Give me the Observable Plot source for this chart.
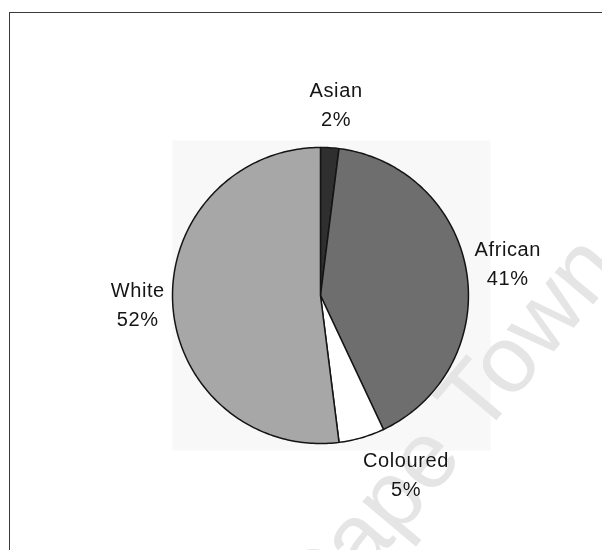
<!DOCTYPE html>
<html>
<head>
<meta charset="utf-8">
<script src="https://cdn.jsdelivr.net/npm/d3@7"></script>
<script src="https://cdn.jsdelivr.net/npm/@observablehq/plot@0.6"></script>
<style>
  html, body { margin: 0; padding: 0; background: #fff; overflow: hidden; }
  #page { position: relative; width: 602px; height: 550px; overflow: hidden; }
  #border { position: absolute; left: 9px; top: 12px; width: 640px; height: 600px;
            border-top: 1.5px solid #3a3a3a; border-left: 1.5px solid #3a3a3a; }
  #chart { position: absolute; left: 0; top: 0; }
  #mark { position: absolute; left: 0; top: 0; mix-blend-mode: darken; pointer-events: none; }
</style>
</head>
<body>
<div id="page">
  <div id="border"></div>
  <div id="chart"></div>
  <svg id="mark" width="602" height="550">
    <text x="623" y="269" transform="rotate(-50 623 269)" text-anchor="end"
          font-family="Arial, 'Liberation Sans', sans-serif" font-size="95" fill="#e5e5e5">Cape Town</text>
  </svg>
</div>
<script>
// Population groups, their shares (%) and slice shades
const groups = ["Asian", "African", "Coloured", "White"];
const shares = [2, 41, 5, 52];
const shades = ["#2f2f2f", "#6e6e6e", "#ffffff", "#a7a7a7"];

// Layout of the plot area
const W = 602, H = 550;
const margin = {left: 172, right: 112, top: 140, bottom: 100};
const xDomain = [-1, 1.149];
const yDomain = [-1.047, 1.047];
const pxPerUnit = (W - margin.left - margin.right) / (xDomain[1] - xDomain[0]);

const font = "Arial, 'Liberation Sans', sans-serif";
const fontSize = 20;
const lineHeight = 1.45;
const letterSpacing = 0.6;

// Slice angles, clockwise from 12 o'clock
const slices = d3.pie().sort(null).value(d => d)(shares);

// Each slice as a closed polygon on the unit circle (y up)
const outline = slices.flatMap((s, i) => {
  const n = Math.max(2, Math.ceil((s.endAngle - s.startAngle) / (Math.PI / 180)));
  const pts = [{g: groups[i], x: 0, y: 0}];
  for (let k = 0; k <= n; ++k) {
    const a = s.startAngle + (s.endAngle - s.startAngle) * k / n;
    pts.push({g: groups[i], x: Math.sin(a), y: Math.cos(a)});
  }
  pts.push({g: groups[i], x: 0, y: 0});
  return pts;
});

// Text width, for pushing each label block clear of the rim
const ctx = document.createElement("canvas").getContext("2d");
ctx.font = `${fontSize}px ${font}`;
const textWidth = s => ctx.measureText(s).width + letterSpacing * s.length;

// Label blocks sit outside the rim at each slice's mid-angle
const gap = 8;
const labels = slices.map((s, i) => {
  const lines = [groups[i], `${shares[i]}%`];
  const w = Math.max(...lines.map(textWidth));
  const h = lines.length * lineHeight * fontSize;
  const mid = (s.startAngle + s.endAngle) / 2;
  const ux = Math.sin(mid), uy = Math.cos(mid);
  const r = 1 + gap / pxPerUnit;
  const ox = (w / 2) * Math.max(-1, Math.min(1, 3.5 * ux)) / pxPerUnit;
  const oy = (h / 2 + gap / 2) * uy / pxPerUnit;
  return {text: lines.join("\n"), x: r * ux + ox, y: r * uy + oy};
});

const chart = Plot.plot({
  width: W,
  height: H,
  marginLeft: margin.left,
  marginRight: margin.right,
  marginTop: margin.top,
  marginBottom: margin.bottom,
  x: {domain: xDomain, axis: null},
  y: {domain: yDomain, axis: null},
  color: {domain: groups, range: shades},
  style: {
    fontFamily: font,
    background: "transparent",
    letterSpacing: `${letterSpacing}px`,
    overflow: "visible"
  },
  marks: [
    Plot.frame({fill: "#f8f8f8", stroke: "none"}),
    Plot.line(outline, {
      x: "x", y: "y", z: "g", fill: "g",
      stroke: "#141414", strokeWidth: 1.5, strokeLinejoin: "round", curve: "linear"
    }),
    Plot.text(labels, {
      x: "x", y: "y", text: "text",
      textAnchor: "middle", lineAnchor: "middle", lineHeight, dy: -5,
      fontSize, fill: "#151515"
    })
  ]
});

document.getElementById("chart").appendChild(chart);
</script>
</body>
</html>
